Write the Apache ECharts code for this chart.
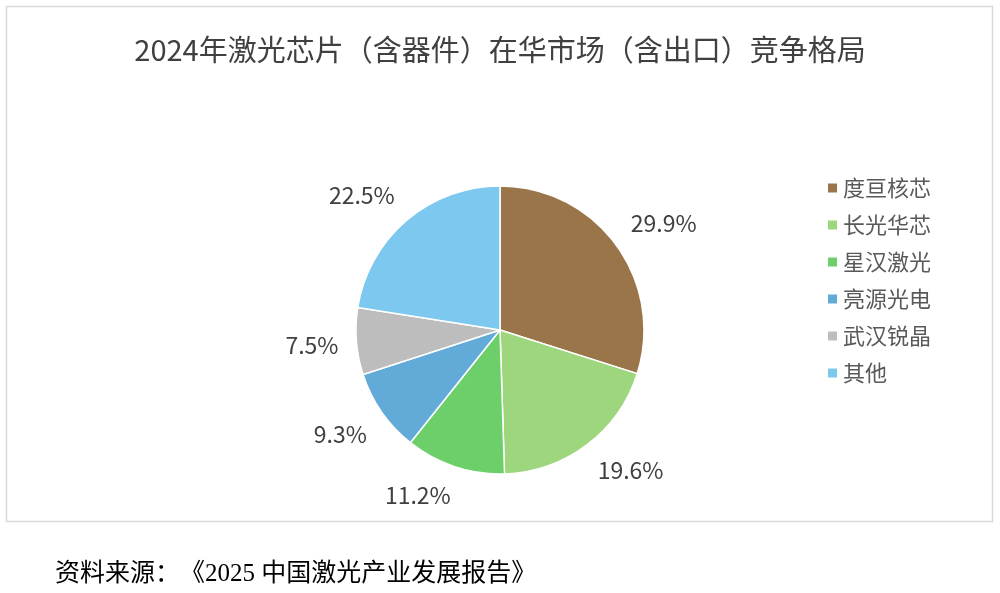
<!DOCTYPE html>
<html>
<head>
<meta charset="utf-8">
<script src="https://cdn.jsdelivr.net/npm/echarts@6/dist/echarts.min.js"></script>
<style>
  html, body { margin: 0; padding: 0; background: #fff; text-spacing-trim: space-all; }
  #chart { width: 1000px; height: 593px; }
</style>
</head>
<body>
<div id="chart"></div>
<script>
  // 数据
  const companies = ['度亘核芯', '长光华芯', '星汉激光', '亮源光电', '武汉锐晶', '其他'];
  const shares = [29.9, 19.6, 11.2, 9.3, 7.5, 22.5];
  const colors = ['#9A7549', '#9DD67D', '#6DCF6A', '#62ABD9', '#BDBDBD', '#7CC8EF'];

  const cjk = '"Microsoft YaHei", "Noto Sans CJK SC", sans-serif';
  const pieCenter = [500, 330];
  const pieRadius = 144;
  const chart = echarts.init(document.getElementById('chart'));

  let pieData = [];
  for (let i = 0; i < companies.length; i++) {
    pieData.push({ name: companies[i], value: shares[i], itemStyle: { color: colors[i] } });
  }
  const total = shares.reduce((a, b) => a + b, 0);

  // 类似 Excel 的“数据标签外”：标签框的近角落在扇区中线上
  function placeLabel(params) {
    const idx = params.dataIndex;
    let before = 0;
    for (let i = 0; i < idx; i++) before += shares[i];
    const ang = (before + shares[idx] / 2) / total * Math.PI * 2;
    const dx = Math.sin(ang), dy = -Math.cos(ang);
    const r0 = pieRadius + 18;
    const w = params.labelRect.width, h = params.labelRect.height;
    const px = pieCenter[0] + r0 * dx, py = pieCenter[1] + r0 * dy;
    const fx = Math.sign(dx) * Math.min(1, Math.abs(dx) * 3);
    const fy = Math.sign(dy) * Math.min(1, Math.abs(dy) * 3);
    return {
      x: px + fx * w / 2,
      y: py + fy * h / 2,
      align: 'center',
      verticalAlign: 'middle'
    };
  }

  chart.setOption({
    animation: false,
    title: {
      text: '2024年激光芯片（含器件）在华市场（含出口）竞争格局',
      left: 'center',
      top: 30,
      textStyle: { fontFamily: cjk, fontSize: 29, fontWeight: 'normal', color: '#404040' }
    },
    legend: {
      orient: 'vertical',
      left: 821,
      top: 172,
      itemWidth: 11,
      itemHeight: 11,
      itemGap: 15,
      icon: 'rect',
      selectedMode: false,
      data: companies,
      textStyle: { fontFamily: cjk, fontSize: 22, color: '#595959' }
    },
    graphic: [
      {
        type: 'rect',
        shape: { x: 6.5, y: 6.5, width: 986, height: 515 },
        style: { fill: 'none', stroke: '#D9D9D9', lineWidth: 1.5 },
        silent: true
      },
      {
        type: 'text',
        left: 55,
        top: 562,
        style: {
          text: '资料来源：《2025 中国激光产业发展报告》',
          font: '25px "Liberation Serif", "Noto Sans CJK SC", serif',
          fill: '#000'
        }
      }
    ],
    series: [
      {
        name: 'share',
        type: 'pie',
        center: pieCenter,
        radius: [0, pieRadius],
        startAngle: 90,
        clockwise: true,
        data: pieData,
        itemStyle: { borderColor: '#fff', borderWidth: 1.5 },
        label: {
          show: true,
          position: 'outside',
          formatter: p => p.value.toFixed(1) + '%',
          fontFamily: cjk,
          fontSize: 23,
          color: '#404040'
        },
        labelLine: { show: false },
        labelLayout: placeLabel,
        emphasis: { disabled: true }
      }
    ]
  });
</script>
</body>
</html>
